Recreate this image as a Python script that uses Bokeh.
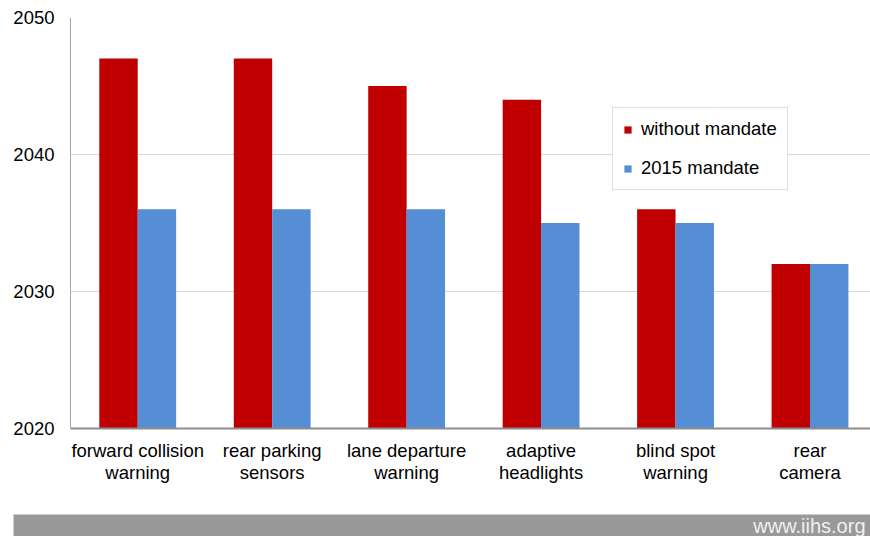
from bokeh.plotting import figure
from bokeh.models import (ColumnDataSource, Range1d, FixedTicker, Legend, LegendItem, Label,
                          Spacer)
from bokeh.layouts import column, row
from bokeh.embed import file_html
from bokeh.resources import INLINE

# Year each safety feature is expected to reach (near) full fleet penetration
features = ["forward collision\nwarning", "rear parking\nsensors", "lane departure\nwarning",
            "adaptive\nheadlights", "blind spot\nwarning", "rear\ncamera"]
without_mandate = [2047, 2047, 2045, 2044, 2036, 2032]
mandate_2015 = [2036, 2036, 2036, 2035, 2035, 2032]
y_ticks = [2020, 2030, 2040, 2050]

FONT = "Liberation Sans"
FS = "18.5px"
RED = "#C00000"
BLUE = "#558ED5"

centers = [i + 0.5 for i in range(len(features))]
bar_w = 2 / 7

src = ColumnDataSource(dict(
    x_red=[c - bar_w / 2 for c in centers],
    x_blue=[c + bar_w / 2 for c in centers],
    without=without_mandate,
    mandate=mandate_2015,
))

p = figure(width=870, height=514, output_backend="svg", toolbar_location=None,
           x_range=Range1d(0, 5.95), y_range=Range1d(2020, 2050),
           min_border_left=70, min_border_right=0, min_border_top=17, min_border_bottom=86)
p.outline_line_color = None
p.background_fill_color = "white"
p.border_fill_color = "white"

r_red = p.vbar(x="x_red", top="without", bottom=2020, width=bar_w, source=src,
               fill_color=RED, line_color=None)
r_blue = p.vbar(x="x_blue", top="mandate", bottom=2020, width=bar_w, source=src,
                fill_color=BLUE, line_color=None)

# y axis
p.yaxis.ticker = FixedTicker(ticks=y_ticks)
p.yaxis.major_tick_line_color = None
p.yaxis.minor_tick_line_color = None
p.yaxis.axis_line_color = "#a6a6a6"
p.yaxis.major_label_text_font = FONT
p.yaxis.major_label_text_font_size = FS
p.yaxis.major_label_text_color = "black"
p.yaxis.major_label_standoff = 10

# x axis with two-line category labels
p.xaxis.ticker = FixedTicker(ticks=centers)
p.xaxis.major_label_overrides = {c: f for c, f in zip(centers, features)}
p.xaxis.major_tick_line_color = None
p.xaxis.minor_tick_line_color = None
p.xaxis.axis_line_color = "#8c8c8c"
p.xaxis.axis_line_width = 2
p.xaxis.major_label_text_font = FONT
p.xaxis.major_label_text_font_size = FS
p.xaxis.major_label_text_color = "black"
p.xaxis.major_label_text_line_height = 1.05
p.xaxis.major_label_standoff = 5

p.xgrid.grid_line_color = None
p.ygrid.ticker = FixedTicker(ticks=y_ticks)
p.ygrid.grid_line_color = "#d9d9d9"

legend = Legend(items=[LegendItem(label="without mandate", renderers=[r_red]),
                       LegendItem(label="2015 mandate", renderers=[r_blue])],
                location=(542, 238), orientation="vertical")
legend.label_text_font = FONT
legend.label_text_font_size = FS
legend.label_text_color = "black"
legend.glyph_width = 9
legend.glyph_height = 9
legend.label_height = 20
legend.label_standoff = 9
legend.spacing = 17
legend.padding = 10
legend.margin = 0
legend.border_line_color = "#bfbfbf"
legend.border_line_width = 1
legend.background_fill_color = "white"
p.add_layout(legend)

# footer band with site address
footer = figure(width=857, height=22, output_backend="svg", toolbar_location=None,
                x_range=Range1d(0, 1), y_range=Range1d(0, 1),
                x_axis_location=None, y_axis_location=None,
                min_border_left=0, min_border_right=0, min_border_top=0, min_border_bottom=0)
footer.grid.visible = False
footer.outline_line_color = None
footer.background_fill_color = "#999999"
footer.border_fill_color = "#999999"
footer.add_layout(Label(x=1, y=0.5, x_offset=-5, text="www.iihs.org", text_align="right",
                        text_baseline="middle", text_font=FONT, text_font_size="20px",
                        text_color="#f0f0f0"))

layout = column(p, row(Spacer(width=13, height=22), footer, spacing=0), spacing=0)
open("out.html", "w").write(file_html(layout, INLINE))
